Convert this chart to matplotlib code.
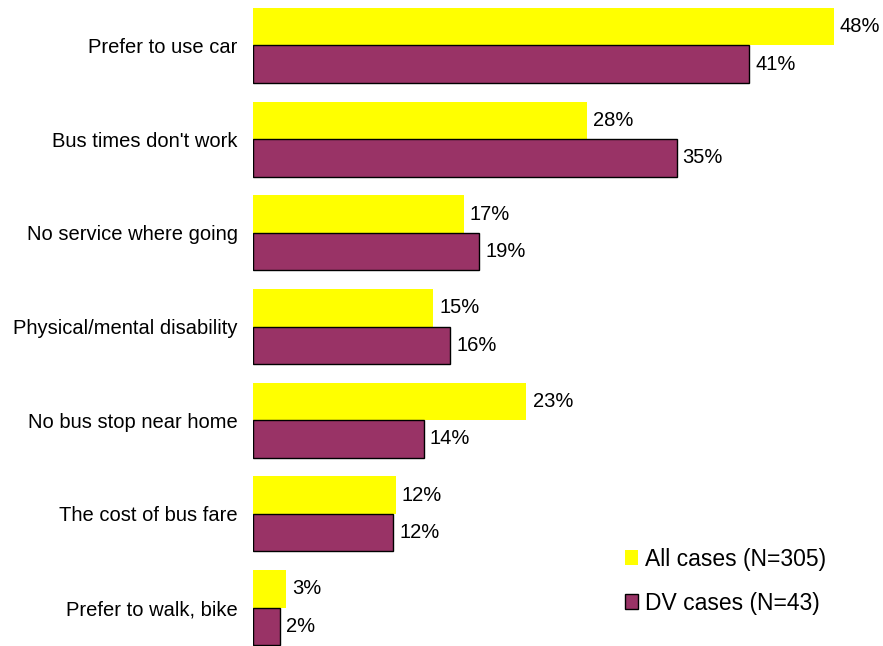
import matplotlib.pyplot as plt
import numpy as np

plt.rcParams['font.family'] = ['Liberation Sans', 'DejaVu Sans']

categories = ["Prefer to use car", "Bus times don't work", "No service where going",
              "Physical/mental disability", "No bus stop near home",
              "The cost of bus fare", "Prefer to walk, bike"]
# bar lengths (unrounded), and the printed labels
all_cases = [48.0, 27.6, 17.4, 14.9, 22.6, 11.8, 2.7]
dv_cases = [41.0, 35.0, 18.7, 16.3, 14.1, 11.6, 2.2]
all_labels = ["48%", "28%", "17%", "15%", "23%", "12%", "3%"]
dv_labels = ["41%", "35%", "19%", "16%", "14%", "12%", "2%"]

fig = plt.figure(figsize=(8.83, 6.46), dpi=100)
ax = fig.add_axes([253 / 883, 0, 630 / 883, 1])

y = np.arange(len(categories))
h = 0.4
ax.barh(y - h / 2, all_cases, height=h, color="#ffff00", label="All cases (N=305)")
ax.barh(y + h / 2, dv_cases, height=h, color="#993366", edgecolor="black",
        linewidth=1, label="DV cases (N=43)")

# value labels
for yy, v, s in zip(y, all_cases, all_labels):
    ax.text(v + 0.5, yy - h / 2, s, va="center", ha="left", fontsize=14.5)
for yy, v, s in zip(y, dv_cases, dv_labels):
    ax.text(v + 0.5, yy + h / 2, s, va="center", ha="left", fontsize=14.5)

ax.set_xlim(0, 630 / 12.1)
ax.set_ylim(-0.485 + 646 / 93.7, -0.485)
ax.set_yticks(y)
ax.set_yticklabels(categories, fontsize=14.5)
ax.tick_params(axis="y", length=0, pad=11)
ax.set_xticks([])
for s in ax.spines.values():
    s.set_visible(False)

fig.legend(loc="upper left", bbox_to_anchor=(604 / 883, 1 - 527 / 646), frameon=False,
           fontsize=16.5, handlelength=0.6, handleheight=0.6, handletextpad=0.3,
           labelspacing=0.92)

fig.savefig("out.png", dpi=100)
